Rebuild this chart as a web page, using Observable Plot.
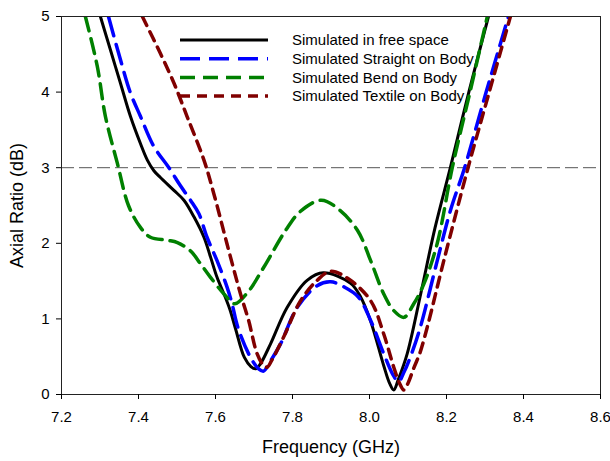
<!DOCTYPE html>
<html>
<head>
<meta charset="utf-8">
<script src="https://cdn.jsdelivr.net/npm/d3@7"></script>
<script src="https://cdn.jsdelivr.net/npm/@observablehq/plot@0.6"></script>
<style>
  body { margin: 0; background: #fff; }
  #wrap { position: relative; width: 610px; height: 461px; font-family: "Liberation Sans", Arial, sans-serif; }
  #legend { position: absolute; left: 178px; top: 31px; }
</style>
</head>
<body>
<div id="wrap"></div>
<script>
// Frequency (GHz), Axial Ratio (dB)
const freeSpaceF = [7.301,7.327,7.353,7.379,7.405,7.423,7.440,7.457,7.492,7.518,7.544,7.570,7.587,7.604,7.622,7.637,7.652,7.675,7.692,7.704,7.716,7.743,7.786,7.838,7.880,7.951,7.977,8.003,8.037,8.052,8.063,8.075,8.098,8.133,8.170,8.210,8.258,8.309];
const freeSpaceAR = [5.0,4.56,4.12,3.68,3.32,3.1,2.96,2.87,2.70,2.57,2.35,2.08,1.82,1.55,1.33,1.13,0.87,0.49,0.37,0.34,0.40,0.67,1.15,1.51,1.61,1.47,1.29,0.97,0.38,0.15,0.06,0.2,0.54,1.33,2.2,3.0,4.0,5.0];

const straightF = [7.322,7.353,7.379,7.405,7.440,7.479,7.509,7.535,7.557,7.578,7.604,7.630,7.643,7.658,7.691,7.712,7.725,7.740,7.769,7.812,7.864,7.899,7.935,7.971,8.003,8.037,8.060,8.075,8.090,8.110,8.132,8.176,8.210,8.247,8.303,8.361];
const straightAR = [5.0,4.43,3.99,3.68,3.28,3.0,2.76,2.57,2.39,2.08,1.77,1.42,1.2,0.89,0.49,0.34,0.31,0.42,0.67,1.15,1.44,1.49,1.42,1.29,0.98,0.54,0.27,0.17,0.3,0.55,0.89,1.77,2.43,3.0,4.0,5.0];

const bendF = [7.262,7.293,7.314,7.345,7.374,7.405,7.431,7.475,7.501,7.535,7.561,7.587,7.622,7.650,7.685,7.725,7.782,7.820,7.875,7.920,7.969,8.003,8.037,8.063,8.089,8.115,8.141,8.176,8.215,8.261,8.306];
const bendAR = [5.0,4.34,3.68,3.06,2.5,2.21,2.08,2.04,2.01,1.90,1.73,1.55,1.33,1.2,1.36,1.68,2.17,2.42,2.57,2.45,2.17,1.77,1.33,1.11,1.02,1.2,1.46,2.0,3.0,4.0,5.0];

const textileF = [7.410,7.457,7.492,7.526,7.570,7.596,7.630,7.665,7.686,7.708,7.724,7.734,7.746,7.777,7.821,7.864,7.899,7.945,8.003,8.037,8.063,8.078,8.089,8.100,8.115,8.131,8.150,8.193,8.256,8.311,8.366];
const textileAR = [5.0,4.51,4.12,3.68,3.1,2.65,1.99,1.33,0.98,0.54,0.39,0.36,0.45,0.76,1.24,1.51,1.63,1.53,1.24,0.8,0.36,0.15,0.06,0.15,0.35,0.55,0.89,1.77,3.0,4.0,5.0];

const seriesNames = ["Simulated in free space","Simulated Straight on Body","Simulated Bend on Body","Simulated Textile on Body"];
const seriesColors = ["#000000","#0000ff","#008000","#800000"];
const seriesDash = [null,"20,9","15,8","10,7"];
const seriesWidth = [3,3.5,3.5,3.5];
const xTicks = [7.2,7.4,7.6,7.8,8.0,8.2,8.4,8.6];
const yTicks = [0,1,2,3,4,5];
const thresholdAR = [3];

const seriesData = [
  [freeSpaceF, freeSpaceAR],
  [straightF, straightAR],
  [bendF, bendAR],
  [textileF, textileAR]
].map(([fs, ars]) => fs.map((f, i) => ({f, ar: ars[i]})));

const lineMarks = seriesData.map((d, i) => Plot.line(d, {
  x: "f", y: "ar", stroke: seriesColors[i], strokeWidth: seriesWidth[i],
  strokeDasharray: seriesDash[i] || undefined, curve: "catmull-rom", clip: true
}));

const chart = Plot.plot({
  width: 610, height: 461,
  marginLeft: 61, marginRight: 10, marginTop: 16, marginBottom: 67,
  style: {fontFamily: '"Liberation Sans", Arial, sans-serif', fontSize: "15px", color: "#000", background: "#fff"},
  x: {domain: [7.2, 8.6]},
  y: {domain: [0, 5]},
  marks: [
    Plot.ruleY(thresholdAR, {stroke: "#555", strokeWidth: 1, strokeDasharray: "13,5"}),
    ...lineMarks,
    Plot.frame({stroke: "#222", strokeWidth: 1}),
    Plot.axisX({ticks: xTicks, tickFormat: d => d.toFixed(1), tickSize: 5, tickPadding: 12, fontSize: 15,
      label: "Frequency (GHz)", labelAnchor: "center", labelArrow: "none", labelOffset: 58}),
    Plot.axisY({ticks: yTicks, tickFormat: d => String(d), tickSize: 5, tickPadding: 7, fontSize: 15,
      label: "Axial Ratio (dB)", labelAnchor: "center", labelArrow: "none", labelOffset: 51})
  ]
});
chart.querySelectorAll("g[aria-label='x-axis label'] text, g[aria-label='y-axis label'] text").forEach(t => t.setAttribute("font-size", "18"));
document.getElementById("wrap").appendChild(chart);

// Legend overlay
const ns = "http://www.w3.org/2000/svg";
const leg = document.createElementNS(ns, "svg");
leg.setAttribute("id", "legend");
leg.setAttribute("width", 320);
leg.setAttribute("height", 80);
seriesNames.forEach((name, i) => {
  const y = 9 + i * 18.7;
  const l = document.createElementNS(ns, "line");
  l.setAttribute("x1", 2); l.setAttribute("x2", 90);
  l.setAttribute("y1", y); l.setAttribute("y2", y);
  l.setAttribute("stroke", seriesColors[i]);
  l.setAttribute("stroke-width", seriesWidth[i]);
  if (seriesDash[i]) l.setAttribute("stroke-dasharray", seriesDash[i]);
  leg.appendChild(l);
  const t = document.createElementNS(ns, "text");
  t.setAttribute("x", 114); t.setAttribute("y", y);
  t.setAttribute("dy", "0.35em");
  t.setAttribute("font-size", "15");
  t.setAttribute("font-family", '"Liberation Sans", Arial, sans-serif');
  t.textContent = name;
  leg.appendChild(t);
});
document.getElementById("wrap").appendChild(leg);
</script>
</body>
</html>
